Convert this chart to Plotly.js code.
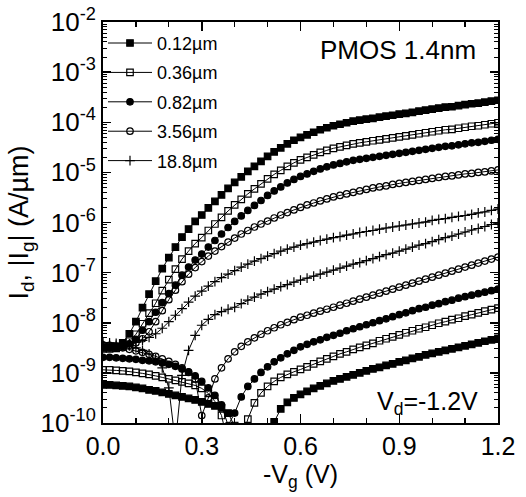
<!DOCTYPE html>
<html><head><meta charset="utf-8">
<script src="https://cdn.plot.ly/plotly-3.0.1.min.js"></script>
<style>html,body{margin:0;padding:0;background:#fff}#chart{width:526px;height:497px}</style>
</head><body><div id="chart"></div>
<script>
// Gate voltage sweep, -Vg (V)
const vg = [0.00,0.02,0.04,0.06,0.08,0.10,0.12,0.14,0.16,0.18,0.20,0.22,0.24,0.26,0.28,0.30,0.32,0.34,0.36,0.38,0.40,0.42,0.44,0.46,0.48,0.50,0.52,0.54,0.56,0.58,0.60,0.62,0.64,0.66,0.68,0.70,0.72,0.74,0.76,0.78,0.80,0.82,0.84,0.86,0.88,0.90,0.92,0.94,0.96,0.98,1.00,1.02,1.04,1.06,1.08,1.10,1.12,1.14,1.16,1.18,1.20];

const channelLengths = ['0.12µm','0.36µm','0.82µm','3.56µm','18.8µm'];

// Drain current Id (A/µm)
const id_012 = [3.16e-9,3.16e-9,3.39e-9,3.98e-9,6.03e-9,1.05e-8,2.00e-8,3.72e-8,6.76e-8,1.20e-7,2.00e-7,3.24e-7,5.13e-7,7.41e-7,1.05e-6,1.41e-6,1.95e-6,2.63e-6,3.55e-6,4.79e-6,6.31e-6,8.13e-6,1.05e-5,1.32e-5,1.66e-5,2.09e-5,2.57e-5,3.09e-5,3.72e-5,4.37e-5,5.01e-5,5.62e-5,6.31e-5,7.08e-5,7.76e-5,8.51e-5,9.12e-5,9.77e-5,1.05e-4,1.10e-4,1.15e-4,1.20e-4,1.26e-4,1.32e-4,1.38e-4,1.45e-4,1.51e-4,1.58e-4,1.66e-4,1.74e-4,1.82e-4,1.91e-4,2.00e-4,2.04e-4,2.14e-4,2.24e-4,2.34e-4,2.40e-4,2.51e-4,2.63e-4,2.75e-4];
const id_036 = [3.02e-9,3.02e-9,3.09e-9,3.31e-9,4.27e-9,5.89e-9,9.55e-9,1.55e-8,2.45e-8,4.37e-8,7.24e-8,1.17e-7,1.86e-7,2.69e-7,3.80e-7,5.01e-7,6.92e-7,9.33e-7,1.26e-6,1.70e-6,2.24e-6,2.88e-6,3.72e-6,4.68e-6,5.89e-6,7.41e-6,9.12e-6,1.10e-5,1.32e-5,1.55e-5,1.78e-5,2.00e-5,2.24e-5,2.51e-5,2.75e-5,3.02e-5,3.24e-5,3.47e-5,3.72e-5,3.89e-5,4.07e-5,4.27e-5,4.47e-5,4.68e-5,4.90e-5,5.13e-5,5.37e-5,5.62e-5,5.89e-5,6.17e-5,6.46e-5,6.76e-5,7.08e-5,7.24e-5,7.59e-5,7.94e-5,8.32e-5,8.51e-5,8.91e-5,9.33e-5,9.77e-5];
const id_082 = [3.16e-9,3.16e-9,3.16e-9,3.39e-9,3.80e-9,4.68e-9,7.08e-9,1.05e-8,1.62e-8,2.51e-8,3.80e-8,5.62e-8,8.91e-8,1.29e-7,1.78e-7,2.34e-7,3.24e-7,4.37e-7,5.89e-7,7.94e-7,1.05e-6,1.35e-6,1.74e-6,2.19e-6,2.75e-6,3.47e-6,4.27e-6,5.13e-6,6.17e-6,7.24e-6,8.32e-6,9.33e-6,1.05e-5,1.17e-5,1.29e-5,1.41e-5,1.51e-5,1.62e-5,1.74e-5,1.82e-5,1.91e-5,2.00e-5,2.09e-5,2.19e-5,2.29e-5,2.40e-5,2.51e-5,2.63e-5,2.75e-5,2.88e-5,3.02e-5,3.16e-5,3.31e-5,3.39e-5,3.55e-5,3.72e-5,3.89e-5,3.98e-5,4.17e-5,4.37e-5,4.57e-5];
const id_356 = [3.31e-9,3.31e-9,3.31e-9,3.39e-9,3.55e-9,3.98e-9,4.79e-9,6.61e-9,1.05e-8,1.74e-8,2.88e-8,4.47e-8,6.61e-8,9.33e-8,1.26e-7,1.66e-7,2.14e-7,2.69e-7,3.31e-7,4.07e-7,4.90e-7,5.89e-7,6.92e-7,8.13e-7,9.33e-7,1.07e-6,1.23e-6,1.41e-6,1.58e-6,1.78e-6,2.00e-6,2.24e-6,2.45e-6,2.69e-6,2.95e-6,3.24e-6,3.47e-6,3.72e-6,3.98e-6,4.27e-6,4.57e-6,4.90e-6,5.13e-6,5.37e-6,5.75e-6,6.03e-6,6.31e-6,6.61e-6,6.92e-6,7.24e-6,7.59e-6,7.94e-6,8.32e-6,8.51e-6,8.91e-6,9.33e-6,9.55e-6,1.00e-5,1.02e-5,1.07e-5,1.12e-5];
const id_188 = [3.55e-9,3.55e-9,3.55e-9,3.63e-9,3.80e-9,4.07e-9,4.47e-9,5.13e-9,6.03e-9,7.76e-9,1.05e-8,1.41e-8,1.91e-8,2.57e-8,3.39e-8,4.27e-8,5.37e-8,6.61e-8,7.94e-8,9.33e-8,1.10e-7,1.29e-7,1.48e-7,1.70e-7,1.91e-7,2.14e-7,2.40e-7,2.69e-7,2.95e-7,3.24e-7,3.55e-7,3.80e-7,4.07e-7,4.37e-7,4.68e-7,5.01e-7,5.25e-7,5.62e-7,5.89e-7,6.31e-7,6.61e-7,6.92e-7,7.41e-7,7.76e-7,8.13e-7,8.51e-7,8.91e-7,9.33e-7,9.77e-7,1.02e-6,1.10e-6,1.15e-6,1.20e-6,1.26e-6,1.32e-6,1.38e-6,1.45e-6,1.55e-6,1.62e-6,1.74e-6,1.86e-6];

// Gate current |Ig| (A/µm)
const ig_012 = [5.75e-10,5.75e-10,5.62e-10,5.50e-10,5.37e-10,5.13e-10,4.90e-10,4.57e-10,4.37e-10,4.07e-10,3.80e-10,3.55e-10,3.31e-10,3.09e-10,2.88e-10,2.63e-10,2.40e-10,2.19e-10,2.00e-10,1.58e-10,8.91e-11,5.01e-11,2.51e-11,6.31e-12,1.26e-11,3.16e-11,1.05e-10,1.91e-10,2.57e-10,3.16e-10,3.72e-10,4.27e-10,4.90e-10,5.50e-10,6.17e-10,6.92e-10,7.59e-10,8.32e-10,9.12e-10,1.00e-9,1.10e-9,1.20e-9,1.29e-9,1.41e-9,1.51e-9,1.66e-9,1.78e-9,1.95e-9,2.09e-9,2.29e-9,2.45e-9,2.63e-9,2.82e-9,3.02e-9,3.24e-9,3.47e-9,3.72e-9,3.98e-9,4.27e-9,4.57e-9,4.90e-9];
const ig_036 = [1.15e-9,1.15e-9,1.12e-9,1.10e-9,1.07e-9,1.02e-9,9.77e-10,9.33e-10,8.71e-10,8.13e-10,7.59e-10,7.08e-10,6.61e-10,6.17e-10,5.62e-10,4.90e-10,3.89e-10,2.69e-10,1.41e-10,3.98e-11,1.00e-11,3.98e-11,1.20e-10,2.51e-10,3.98e-10,5.37e-10,6.76e-10,8.13e-10,9.33e-10,1.05e-9,1.17e-9,1.32e-9,1.51e-9,1.70e-9,1.91e-9,2.14e-9,2.40e-9,2.63e-9,2.95e-9,3.24e-9,3.55e-9,3.89e-9,4.37e-9,4.79e-9,5.25e-9,5.75e-9,6.31e-9,6.92e-9,7.59e-9,8.13e-9,8.91e-9,9.77e-9,1.05e-8,1.15e-8,1.23e-8,1.35e-8,1.45e-8,1.58e-8,1.70e-8,1.82e-8,1.95e-8];
const ig_082 = [2.04e-9,2.04e-9,2.00e-9,1.95e-9,1.91e-9,1.86e-9,1.78e-9,1.74e-9,1.66e-9,1.58e-9,1.48e-9,1.35e-9,1.20e-9,1.05e-9,8.71e-10,6.76e-10,5.01e-10,3.55e-10,2.29e-10,8.91e-11,1.58e-10,3.31e-10,5.37e-10,7.59e-10,1.02e-9,1.32e-9,1.66e-9,2.00e-9,2.40e-9,2.82e-9,3.31e-9,3.72e-9,4.17e-9,4.57e-9,5.13e-9,5.62e-9,6.17e-9,6.92e-9,7.59e-9,8.32e-9,9.12e-9,1.00e-8,1.10e-8,1.20e-8,1.32e-8,1.45e-8,1.58e-8,1.74e-8,1.91e-8,2.04e-8,2.24e-8,2.40e-8,2.63e-8,2.82e-8,3.09e-8,3.31e-8,3.55e-8,3.80e-8,4.07e-8,4.37e-8,4.68e-8];
const ig_356 = [3.63e-9,3.55e-9,3.39e-9,3.16e-9,2.95e-9,2.75e-9,2.57e-9,2.34e-9,2.14e-9,1.91e-9,1.70e-9,1.48e-9,1.26e-9,1.02e-9,7.59e-10,1.41e-10,3.16e-10,7.59e-10,1.26e-9,1.91e-9,2.63e-9,3.39e-9,4.17e-9,5.01e-9,5.89e-9,6.92e-9,7.94e-9,9.12e-9,1.02e-8,1.15e-8,1.29e-8,1.41e-8,1.55e-8,1.70e-8,1.86e-8,2.04e-8,2.24e-8,2.45e-8,2.69e-8,2.95e-8,3.24e-8,3.55e-8,3.89e-8,4.27e-8,4.68e-8,5.13e-8,5.62e-8,6.17e-8,6.76e-8,7.41e-8,8.13e-8,8.91e-8,9.77e-8,1.07e-7,1.17e-7,1.29e-7,1.41e-7,1.55e-7,1.70e-7,1.86e-7,2.04e-7];
const ig_188 = [3.98e-9,3.98e-9,3.89e-9,3.72e-9,3.47e-9,3.16e-9,2.82e-9,2.40e-9,1.91e-9,1.26e-9,5.01e-10,3.98e-11,8.91e-10,2.82e-9,5.62e-9,8.91e-9,1.17e-8,1.45e-8,1.66e-8,1.86e-8,2.04e-8,2.40e-8,2.82e-8,3.24e-8,3.72e-8,4.17e-8,4.68e-8,5.25e-8,5.75e-8,6.46e-8,7.08e-8,7.76e-8,8.51e-8,9.33e-8,1.02e-7,1.12e-7,1.23e-7,1.35e-7,1.48e-7,1.58e-7,1.74e-7,1.91e-7,2.09e-7,2.29e-7,2.45e-7,2.69e-7,2.95e-7,3.24e-7,3.55e-7,3.80e-7,4.17e-7,4.57e-7,5.01e-7,5.37e-7,5.89e-7,6.46e-7,7.08e-7,7.59e-7,8.32e-7,9.12e-7,9.77e-7];

// Tick labels
const yTickVals = [1e-10,1e-9,1e-8,1e-7,1e-6,1e-5,1e-4,1e-3,1e-2];
const yTickText = ['10<sup>-10</sup>','10<sup>-9</sup>','10<sup>-8</sup>','10<sup>-7</sup>','10<sup>-6</sup>','10<sup>-5</sup>','10<sup>-4</sup>','10<sup>-3</sup>','10<sup>-2</sup>'];
const xTickVals = [0,0.3,0.6,0.9,1.2];
const xTickText = ['0.0','0.3','0.6','0.9','1.2'];

const idSeries = [id_012,id_036,id_082,id_356,id_188];
const igSeries = [ig_012,ig_036,ig_082,ig_356,ig_188];
const symbols = ['square','square-open','circle','circle-open','cross-thin-open'];
const sizes = [6.5,6.5,6.5,6.5,7];

const FONT = '"Liberation Sans", Arial, Helvetica, sans-serif';
const traces = [];
for (let i = 0; i < 5; i++) {
  const mk = {symbol: symbols[i], size: sizes[i], color: '#000', line: {color: '#000', width: 1.2}};
  traces.push({x: vg, y: idSeries[i], type: 'scatter', mode: 'lines+markers', name: channelLengths[i],
    legendgroup: 'g' + i, line: {color: '#000', width: 1}, marker: mk, showlegend: true});
}
for (let i = 0; i < 5; i++) {
  const mk = {symbol: symbols[i], size: sizes[i], color: '#000', line: {color: '#000', width: 1.2}};
  traces.push({x: vg, y: igSeries[i], type: 'scatter', mode: 'lines+markers', name: channelLengths[i] + ' Ig',
    legendgroup: 'g' + i, line: {color: '#000', width: 1}, marker: mk, showlegend: false});
}

const xMinor = [0.1,0.2,0.4,0.5,0.7,0.8,1.0,1.1];
const yMinor = [];
for (let e = -10; e < -2; e++) for (let m = 2; m <= 9; m++) yMinor.push(m * Math.pow(10, e));

const layout = {
  width: 526, height: 497,
  margin: {l: 103, r: 28, t: 22, b: 74},
  paper_bgcolor: '#fff', plot_bgcolor: '#fff',
  font: {family: FONT, color: '#000', size: 24},
  showlegend: true,
  legend: {x: 0.0, y: 0.993, xanchor: 'left', yanchor: 'top', bgcolor: 'rgba(0,0,0,0)',
    font: {family: FONT, size: 18, color: '#000'}, tracegroupgap: 3, itemwidth: 44},
  xaxis: {range: [0, 1.2], tickmode: 'array', tickvals: xTickVals, ticktext: xTickText,
    ticks: 'inside', ticklen: 9, tickwidth: 1.5, tickcolor: '#000',
    showline: true, linewidth: 2, linecolor: '#000', mirror: 'allticks',
    showgrid: false, zeroline: false, tickfont: {family: FONT, size: 25, color: '#000'},
    title: {text: '-V<sub>g</sub> (V)', font: {family: FONT, size: 25, color: '#000'}, standoff: 4},
    minor: {tickmode: 'array', tickvals: xMinor, ticks: 'inside', ticklen: 5, tickwidth: 1.2, tickcolor: '#000', showgrid: false}},
  yaxis: {type: 'log', range: [-10, -2], tickmode: 'array', tickvals: yTickVals, ticktext: yTickText,
    ticks: 'inside', ticklen: 8, tickwidth: 1.5, tickcolor: '#000',
    showline: true, linewidth: 2, linecolor: '#000', mirror: 'allticks',
    showgrid: false, zeroline: false, tickfont: {family: FONT, size: 26, color: '#000'},
    title: {text: 'I<sub>d</sub>, |I<sub>g</sub>| (A/µm)', font: {family: FONT, size: 27, color: '#000'}, standoff: 4},
    minor: {tickmode: 'array', tickvals: yMinor, ticks: 'inside', ticklen: 4, tickwidth: 1, tickcolor: '#000', showgrid: false}},
  annotations: [
    {text: 'PMOS 1.4nm', xref: 'paper', yref: 'paper', x: 0.95, y: 0.93, xanchor: 'right', yanchor: 'middle',
      showarrow: false, font: {family: FONT, size: 26, color: '#000'}},
    {text: 'V<sub>d</sub>=-1.2V', xref: 'paper', yref: 'paper', x: 0.955, y: 0.05, xanchor: 'right', yanchor: 'middle',
      showarrow: false, font: {family: FONT, size: 25, color: '#000'}}
  ]
};

Plotly.newPlot('chart', traces, layout, {displayModeBar: false, staticPlot: true});
</script>
</body></html>
